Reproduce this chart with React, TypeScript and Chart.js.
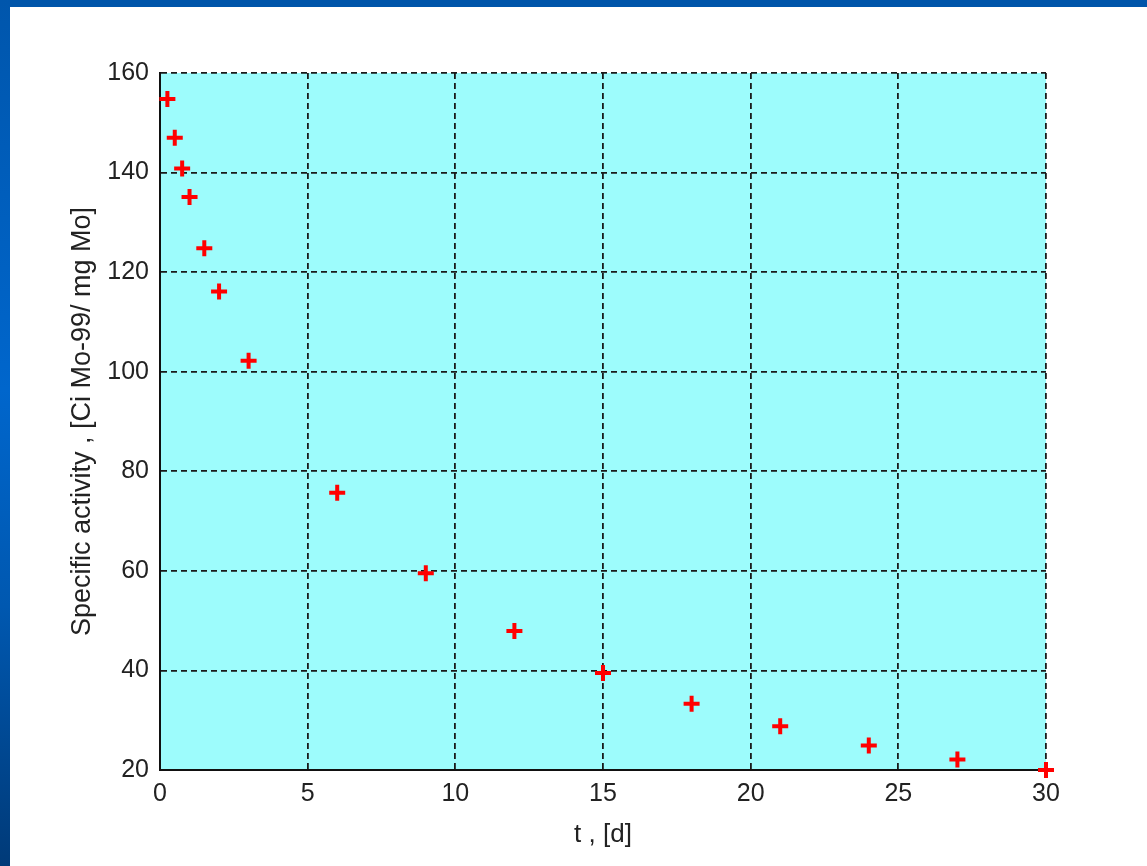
import React, { useEffect, useRef } from "react";
import { Chart, registerables } from "chart.js";

Chart.register(...registerables);

const tDays = [0.25, 0.5, 0.75, 1, 1.5, 2, 3, 6, 9, 12, 15, 18, 21, 24, 27, 30];
const activity = [154.8, 147.0, 140.8, 135.1, 124.8, 116.1, 102.2, 75.7, 59.5, 47.9, 39.5, 33.3, 28.8, 24.9, 22.1, 20.0];
const xLabel = "t , [d]";
const yLabel = "Specific activity , [Ci Mo-99/ mg Mo]";

const FONT = "'Liberation Sans', Arial, sans-serif";

const plotBg = {
  id: "plotBg",
  beforeDraw(chart: any) {
    const { ctx, chartArea } = chart;
    ctx.save();
    ctx.fillStyle = "rgb(157,252,252)";
    ctx.fillRect(chartArea.left, chartArea.top, chartArea.right - chartArea.left, chartArea.bottom - chartArea.top);
    ctx.restore();
  },
};

export default function App() {
  const ref = useRef<HTMLCanvasElement>(null);
  useEffect(() => {
    if (!ref.current) return;
    const chart = new Chart(ref.current, {
      type: "scatter",
      data: {
        datasets: [
          {
            data: tDays.map((t, i) => ({ x: t, y: activity[i] })),
            pointStyle: "cross",
            pointRadius: 8,
            pointHoverRadius: 8,
            borderColor: "#ff0000",
            backgroundColor: "#ff0000",
            pointBorderWidth: 4,
            borderWidth: 4,
            clip: false as any,
          },
        ],
      },
      plugins: [plotBg],
      options: {
        animation: false,
        responsive: false,
        events: [],
        layout: { padding: { top: 66, right: 101, left: 0, bottom: 0 } },
        plugins: { legend: { display: false }, tooltip: { enabled: false } },
        scales: {
          x: {
            type: "linear",
            min: 0,
            max: 30,
            afterFit: (s: any) => { s.height = 96; },
            ticks: { stepSize: 5, color: "#222", padding: 9, font: { family: FONT, size: 25 }, maxRotation: 0 },
            grid: { color: "#1a1a1a", lineWidth: 1.8, drawTicks: false },
            border: { display: true, color: "#111", width: 2, dash: [6, 4] },
            title: { display: true, text: xLabel, color: "#222", font: { family: FONT, size: 26 }, padding: { top: 4, bottom: 16 } },
          },
          y: {
            type: "linear",
            min: 20,
            max: 160,
            afterFit: (s: any) => { s.width = 150; },
            ticks: { stepSize: 20, color: "#222", padding: 11, font: { family: FONT, size: 25 } },
            grid: { color: "#1a1a1a", lineWidth: 1.8, drawTicks: false },
            border: { display: true, color: "#111", width: 2, dash: [6, 4] },
            title: { display: true, text: yLabel, color: "#222", font: { family: FONT, size: 27 }, padding: { top: 56 } },
          },
        },
      } as any,
    });
    return () => chart.destroy();
  }, []);

  return (
    <div style={{ position: "fixed", left: 0, top: 0, width: 1147, height: 866, background: "#fff", overflow: "hidden" }}>
      <div style={{ position: "absolute", left: 0, top: 0, width: 1147, height: 7, background: "#0055aa" }} />
      <div
        style={{
          position: "absolute",
          left: 0,
          top: 0,
          width: 10,
          height: 866,
          background: "linear-gradient(to bottom, #0056ac 0%, #0066cc 45%, #0058b0 70%, #003a78 100%)",
        }}
      />
      <canvas ref={ref} width={1137} height={859} style={{ position: "absolute", left: 10, top: 7, width: 1137, height: 859 }} />
    </div>
  );
}
